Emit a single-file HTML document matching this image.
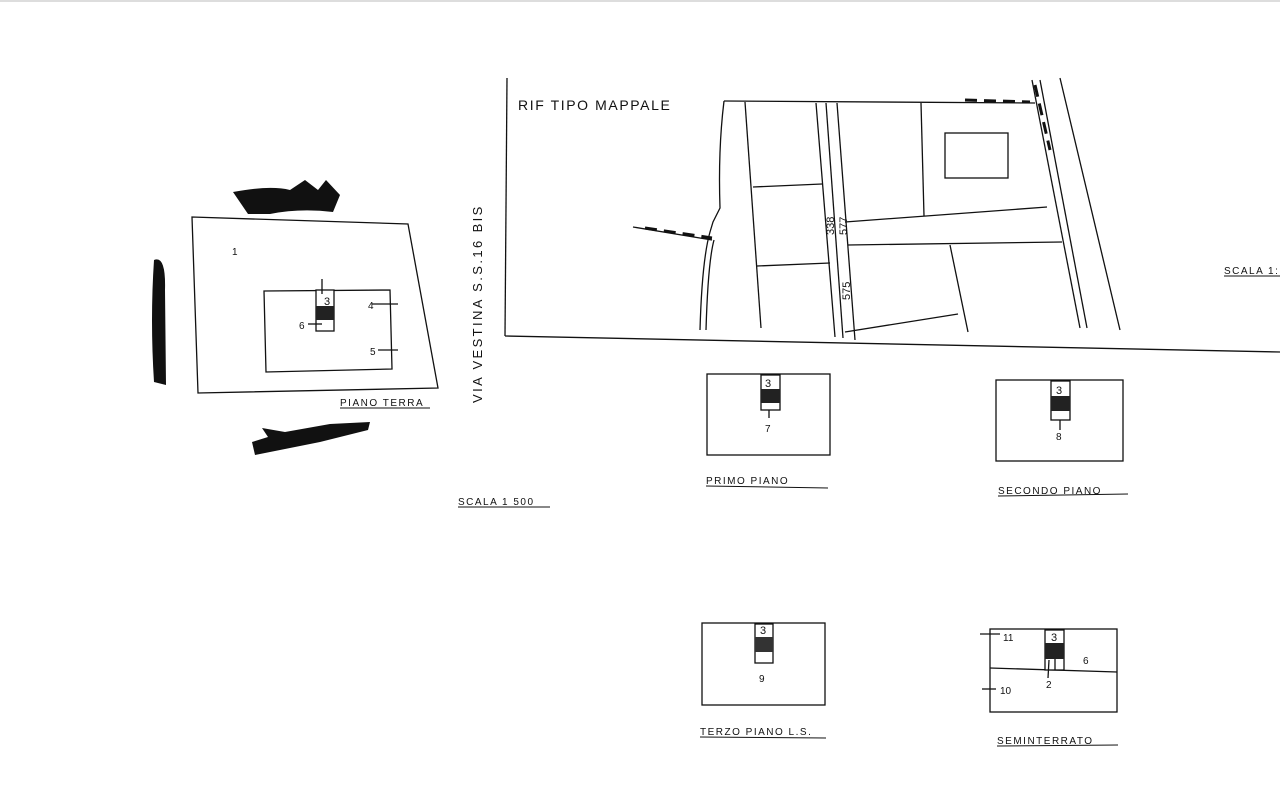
<!DOCTYPE html>
<html><head><meta charset="utf-8"><style>
html,body{margin:0;padding:0;background:#fff;}
svg{display:block;}
text{font-family:"Liberation Sans",sans-serif;fill:#111;}
</style></head><body>
<svg width="1280" height="812" viewBox="0 0 1280 812" xmlns="http://www.w3.org/2000/svg">
<rect width="1280" height="812" fill="#fff"/>
<line x1="0" y1="1" x2="1280" y2="1" stroke="#ddd" stroke-width="2"/>
<g stroke="#111" stroke-width="1.3" fill="none">
<polygon points="192,217 408,224 438,388 198,393"/>
<polygon points="264,291 390,290 392,369 266,372"/>
<rect x="316" y="290" width="18" height="41" fill="#fff"/>
<line x1="372" y1="304" x2="398" y2="304"/><line x1="378" y1="350" x2="398" y2="350"/>
<line x1="308" y1="324" x2="322" y2="324"/>
<line x1="322" y1="279" x2="322" y2="294"/>
<line x1="507" y1="78" x2="505" y2="336"/>
<line x1="505" y1="336" x2="1280" y2="352"/>
<line x1="724" y1="101" x2="1035" y2="103"/>
<path d="M724,101 Q718,150 720,208 L713,222 L710,232 Q702,260 700,330"/>
<path d="M714,240 Q708,262 706,330"/>
<line x1="633" y1="227" x2="712" y2="240"/>
<line x1="745" y1="102" x2="761" y2="328"/>
<line x1="816" y1="103" x2="835" y2="337"/>
<line x1="826" y1="103" x2="843" y2="338"/>
<line x1="837" y1="103" x2="855" y2="340"/>
<line x1="921" y1="103" x2="924" y2="216"/>
<rect x="945" y="133" width="63" height="45"/>
<line x1="1032" y1="80" x2="1080" y2="328"/>
<line x1="1040" y1="80" x2="1087" y2="328"/>
<line x1="1060" y1="78" x2="1120" y2="330"/>
<line x1="753" y1="187" x2="822" y2="184"/>
<line x1="757" y1="266" x2="830" y2="263"/>
<line x1="845" y1="222" x2="1047" y2="207"/>
<line x1="848" y1="245" x2="1062" y2="242"/>
<line x1="950" y1="245" x2="968" y2="332"/>
<line x1="845" y1="332" x2="958" y2="314"/>
</g>
<g stroke="#111" stroke-width="3" stroke-dasharray="12,7" fill="none">
<line x1="645" y1="228" x2="712" y2="238"/>
<line x1="965" y1="100" x2="1030" y2="102"/>
<line x1="1035" y1="85" x2="1050" y2="150"/>
</g>
<text x="518" y="110" font-size="14" letter-spacing="1.6">RIF  TIPO  MAPPALE</text>
<text transform="translate(834,235) rotate(-90)" font-size="11">338</text>
<text transform="translate(847,235) rotate(-90)" font-size="11">577</text>
<text transform="translate(850,300) rotate(-90)" font-size="11">575</text>
<rect x="316" y="306" width="18" height="14" fill="#222"/>
<text x="232" y="255" font-size="10">1</text>
<text x="324" y="305" font-size="11">3</text>
<text x="368" y="309" font-size="10">4</text>
<text x="370" y="355" font-size="10">5</text>
<text x="299" y="329" font-size="10">6</text>
<text x="340" y="406" font-size="10" letter-spacing="1.5">PIANO  TERRA</text>
<line x1="340" y1="408" x2="430" y2="408" stroke="#111"/>
<path d="M233,192 Q270,185 290,190 L305,180 L318,190 L326,180 L340,195 L333,212 Q300,208 270,214 L248,214 Z" fill="#111"/>
<path d="M154,260 Q166,255 165,290 L166,385 L154,382 Q150,320 154,260 Z" fill="#111"/>
<path d="M262,428 L285,432 L330,424 L370,422 L368,430 L320,442 L290,448 L255,455 L252,442 L268,437 Z" fill="#111"/>
<text transform="translate(482,403) rotate(-90)" font-size="13" letter-spacing="2.4">VIA  VESTINA   S.S.16 BIS</text>
<text x="458" y="505" font-size="10" letter-spacing="1.5">SCALA  1  500</text>
<line x1="458" y1="507" x2="550" y2="507" stroke="#111"/>
<text x="1224" y="274" font-size="10" letter-spacing="1.5">SCALA  1:</text>
<line x1="1224" y1="276" x2="1280" y2="276" stroke="#111"/>
<g stroke="#111" stroke-width="1.3" fill="none">
<rect x="707" y="374" width="123" height="81"/>
<rect x="761" y="375" width="19" height="35" fill="#fff"/>
<rect x="996" y="380" width="127" height="81"/>
<rect x="1051" y="381" width="19" height="39" fill="#fff"/>
<rect x="702" y="623" width="123" height="82"/>
<rect x="755" y="624" width="18" height="39" fill="#fff"/>
<rect x="990" y="629" width="127" height="83"/>
<line x1="990" y1="668" x2="1117" y2="672"/>
<rect x="1045" y="630" width="19" height="40" fill="#fff"/>
<line x1="1055" y1="658" x2="1055" y2="670"/>
<line x1="980" y1="634" x2="1000" y2="634"/>
<line x1="982" y1="689" x2="996" y2="689"/>
<line x1="769" y1="410" x2="769" y2="418"/>
<line x1="1060" y1="420" x2="1060" y2="430"/>
<line x1="1049" y1="660" x2="1048" y2="678"/>
</g>
<rect x="761" y="389" width="19" height="14" fill="#222"/>
<rect x="1051" y="396" width="19" height="15" fill="#222"/>
<rect x="755" y="637" width="18" height="15" fill="#333"/>
<rect x="1045" y="643" width="19" height="16" fill="#222"/>
<text x="765" y="387" font-size="11">3</text><text x="765" y="432" font-size="10">7</text>
<text x="1056" y="394" font-size="11">3</text><text x="1056" y="440" font-size="10">8</text>
<text x="760" y="634" font-size="11">3</text><text x="759" y="682" font-size="10">9</text>
<text x="1051" y="641" font-size="11">3</text><text x="1083" y="664" font-size="10">6</text>
<text x="1046" y="688" font-size="10">2</text>
<text x="1003" y="641" font-size="10">11</text><text x="1000" y="694" font-size="10">10</text>
<g font-size="10" letter-spacing="1.5">
<text x="706" y="484">PRIMO  PIANO</text>
<text x="998" y="494">SECONDO  PIANO</text>
<text x="700" y="735">TERZO  PIANO  L.S.</text>
<text x="997" y="744">SEMINTERRATO</text>
</g>
<g stroke="#111">
<line x1="706" y1="486" x2="828" y2="488"/>
<line x1="998" y1="496" x2="1128" y2="494"/>
<line x1="700" y1="737" x2="826" y2="738"/>
<line x1="997" y1="746" x2="1118" y2="745"/>
</g>
</svg>
</body></html>
